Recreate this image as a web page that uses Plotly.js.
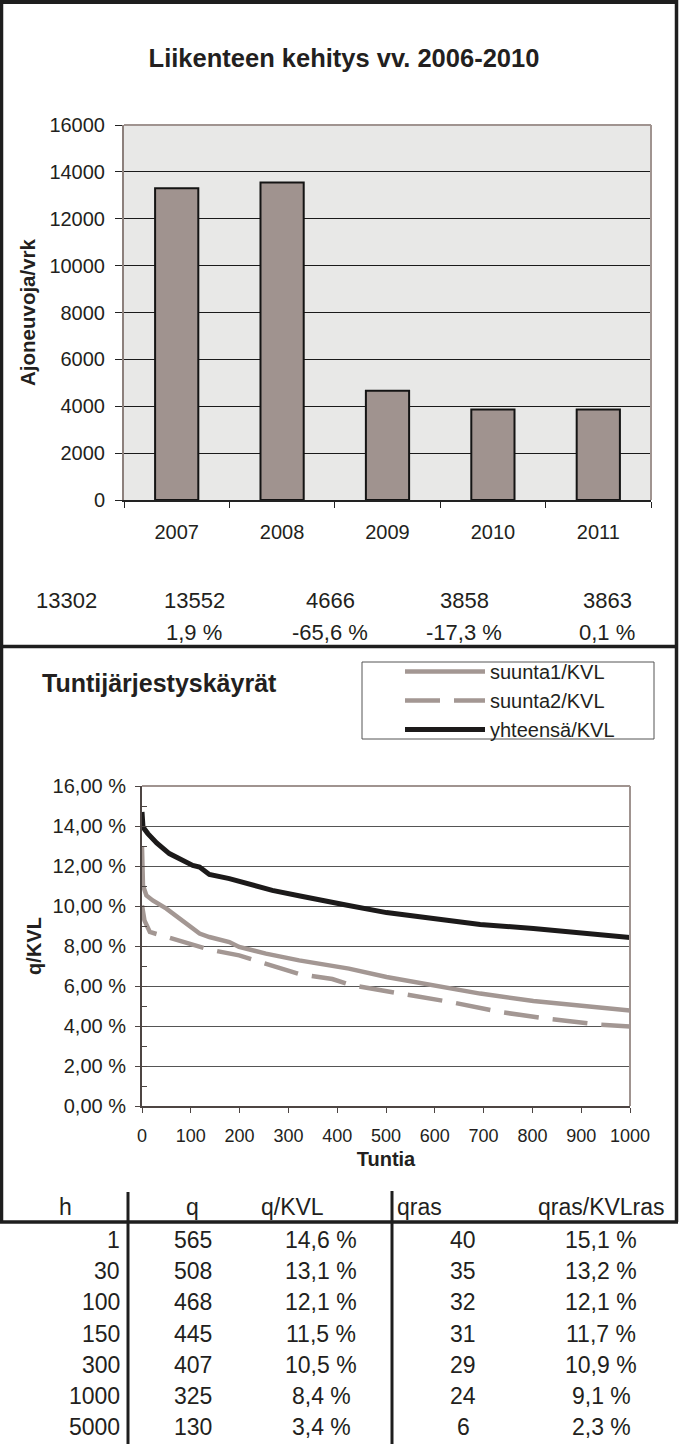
<!DOCTYPE html>
<html><head><meta charset="utf-8">
<script src="https://cdn.plot.ly/plotly-3.0.1.min.js"></script>
<style>html,body{margin:0;padding:0;background:#fff}#chart{width:690px;height:1444px}</style>
</head><body><div id="chart"></div>
<script>
// ---- data: yearly traffic ----
const years = ['2007', '2008', '2009', '2010', '2011'];
const trafficKVL = [13302, 13552, 4666, 3858, 3863];
const changePct = [1.9, -65.6, -17.3, 0.1];

// ---- data: hour-order curves (q/KVL, %) ----
const hoursTotal = [0, 2, 12, 30, 56, 104, 118, 138, 179, 213, 267, 324, 390, 418, 501, 597, 693, 802, 904, 1000];
const totalKVL   = [14.7, 13.95, 13.62, 13.15, 12.62, 12.03, 11.95, 11.58, 11.37, 11.12, 10.78, 10.5, 10.15, 10.05, 9.67, 9.37, 9.08, 8.87, 8.65, 8.42];
const hoursDir1  = [0, 2, 9, 22, 50, 77, 97, 118, 138, 179, 199, 254, 322, 390, 424, 501, 597, 693, 802, 904, 1000];
const dir1KVL    = [12.95, 11.03, 10.53, 10.28, 9.87, 9.37, 8.95, 8.62, 8.45, 8.2, 7.95, 7.62, 7.28, 6.98, 6.87, 6.45, 6.03, 5.62, 5.25, 4.98, 4.78];
const hoursDir2  = [0, 5, 16, 50, 97, 138, 199, 254, 322, 390, 427, 530, 632, 734, 829, 932, 1000];
const dir2KVL    = [10.03, 9.28, 8.7, 8.45, 8.12, 7.82, 7.53, 7.12, 6.6, 6.35, 6.05, 5.62, 5.2, 4.7, 4.37, 4.08, 3.98];
const seriesNames = ['suunta1/KVL', 'suunta2/KVL', 'yhteensä/KVL'];

// ---- data: table ----
const tblHeaders  = ['h', 'q', 'q/KVL', 'qras', 'qras/KVLras'];
const tblHours    = [1, 30, 100, 150, 300, 1000, 5000];
const tblQ        = [565, 508, 468, 445, 407, 325, 130];
const tblQKVL     = [14.6, 13.1, 12.1, 11.5, 10.5, 8.4, 3.4];
const tblQras     = [40, 35, 32, 31, 29, 24, 6];
const tblQrasKVL  = [15.1, 13.2, 12.1, 11.7, 10.9, 9.1, 2.3];

// ---- helpers ----
const W = 690, H = 1444;
const px = x => x / W;
const py = y => 1 - y / H;
const FONT = 'Liberation Sans, Arial, sans-serif';
const TXT = '#231f20';
const fmtPct = v => v.toFixed(1).replace('.', ',') + ' %';
const GREY = '#a39793';

const traces = [
  {type: 'bar', x: years, y: trafficKVL, xaxis: 'x', yaxis: 'y', showlegend: false, hoverinfo: 'skip',
   marker: {color: '#a0938f', line: {color: '#141414', width: 2}}},
  {type: 'scatter', mode: 'lines', name: seriesNames[0], x: hoursDir1, y: dir1KVL, xaxis: 'x2', yaxis: 'y2',
   line: {color: GREY, width: 4.5}},
  {type: 'scatter', mode: 'lines', name: seriesNames[1], x: hoursDir2, y: dir2KVL, xaxis: 'x2', yaxis: 'y2',
   line: {color: GREY, width: 4.5, dash: '35px,14px'}},
  {type: 'scatter', mode: 'lines', name: seriesNames[2], x: hoursTotal, y: totalKVL, xaxis: 'x2', yaxis: 'y2',
   line: {color: '#1c1a1a', width: 5}}
];

const ann = [];
// Second chart title
ann.push({text: 'Tuntijärjestyskäyrät', x: px(40), y: py(683), xref: 'paper', yref: 'paper',
  xanchor: 'left', yanchor: 'middle', showarrow: false, font: {family: FONT, size: 25, weight: 'bold', color: TXT}});
// value row under bar chart
const valX = [66, 194, 330, 464, 607];
trafficKVL.forEach((v, i) => ann.push({text: String(v), x: px(valX[i]), y: py(600), xref: 'paper', yref: 'paper',
  xanchor: 'center', yanchor: 'middle', showarrow: false, font: {family: FONT, size: 22, color: TXT}}));
changePct.forEach((v, i) => ann.push({text: fmtPct(v), x: px(valX[i + 1]), y: py(632), xref: 'paper', yref: 'paper',
  xanchor: 'center', yanchor: 'middle', showarrow: false, font: {family: FONT, size: 22, color: TXT}}));
// table headers
const hdrPos = [[65, 'center'], [193, 'center'], [292, 'center'], [395, 'left'], [601, 'center']];
tblHeaders.forEach((t, i) => ann.push({text: t, x: px(hdrPos[i][0]), y: py(1207), xref: 'paper', yref: 'paper',
  xanchor: hdrPos[i][1], yanchor: 'middle', showarrow: false, font: {family: FONT, size: 23, color: TXT}}));
// table rows
const rowY = i => 1240 + 31.2 * i;
const cell = (t, x, xa, i) => ann.push({text: t, x: px(x), y: py(rowY(i)), xref: 'paper', yref: 'paper',
  xanchor: xa, yanchor: 'middle', showarrow: false, font: {family: FONT, size: 23, color: TXT}});
tblHours.forEach((v, i) => cell(String(v), 122, 'right', i));
tblQ.forEach((v, i) => cell(String(v), 193, 'center', i));
tblQKVL.forEach((v, i) => cell(fmtPct(v), 321, 'center', i));
tblQras.forEach((v, i) => cell(String(v), 463, 'center', i));
tblQrasKVL.forEach((v, i) => cell(fmtPct(v), 601, 'center', i));

const line = (x0, y0, x1, y1, color, width, dash) => ({type: 'line', xref: 'paper', yref: 'paper',
  x0: px(x0), y0: py(y0), x1: px(x1), y1: py(y1), line: {color, width, dash: dash || 'solid'}});

const shapes = [
  // top chart plot background
  {type: 'rect', xref: 'x domain', yref: 'y domain', x0: 0, x1: 1, y0: 0, y1: 1, layer: 'below',
   fillcolor: '#e8e8e7', line: {width: 0}},
  // plot borders (top/right)
  line(124, 125, 651, 125, '#a09490', 2),
  line(651, 125, 651, 500, '#a09490', 2),
  line(142, 786, 630, 786, '#a09490', 2),
  line(630, 786, 630, 1106, '#a09490', 2),
  // legend box
  {type: 'rect', xref: 'paper', yref: 'paper', x0: px(362), x1: px(654), y0: py(662), y1: py(739),
   line: {color: '#555', width: 1}, fillcolor: 'rgba(0,0,0,0)'},
  // outer frame
  line(0, 2, 678, 2, '#1e1e1e', 4),
  line(1.5, 0, 1.5, 1222, '#1e1e1e', 3.5),
  line(676.5, 0, 676.5, 1222, '#1e1e1e', 3.5),
  line(0, 646.5, 678, 646.5, '#1e1e1e', 3.5),
  // table lines
  line(0, 1222, 678, 1222, '#1e1e1e', 3.5),
  line(128, 1192, 128, 1444, '#1e1e1e', 3),
  line(392, 1191, 392, 1444, '#1e1e1e', 3)
];

const layout = {
  width: W, height: H, margin: {l: 0, r: 0, t: 0, b: 0},
  paper_bgcolor: '#fff', plot_bgcolor: 'rgba(0,0,0,0)',
  separators: ', ',
  font: {family: FONT, color: TXT},
  title: {text: 'Liikenteen kehitys vv. 2006-2010', x: px(344), y: py(58), xref: 'paper', yref: 'paper',
    xanchor: 'center', yanchor: 'middle', font: {family: FONT, size: 25.5, weight: 'bold', color: TXT}},
  bargap: 0.59,
  showlegend: true,
  legend: {x: px(400), y: py(652), xanchor: 'left', yanchor: 'top', bgcolor: 'rgba(0,0,0,0)', borderwidth: 0,
    itemwidth: 80, font: {family: FONT, size: 20, color: TXT}, traceorder: 'normal'},
  xaxis: {domain: [px(124), px(651)], anchor: 'y', type: 'category', tickson: 'boundaries',
    ticks: 'outside', ticklen: 6, tickcolor: '#222', showline: true, linecolor: '#222', linewidth: 1.5,
    showgrid: false, tickfont: {family: FONT, size: 20, color: TXT}, ticklabelstandoff: 13, fixedrange: true},
  yaxis: {domain: [py(500), py(125)], anchor: 'x', range: [0, 16000], dtick: 2000, tickformat: 'd',
    ticks: 'outside', ticklen: 7, tickcolor: '#222', showline: true, linecolor: '#8c807c', linewidth: 2,
    gridcolor: '#1a1a1a', gridwidth: 1, zeroline: false, tickfont: {family: FONT, size: 20, color: TXT},
    ticklabelstandoff: 6,
    title: {text: 'Ajoneuvoja/vrk', font: {family: FONT, size: 20.5, weight: 'bold', color: TXT}, standoff: 8}},
  xaxis2: {domain: [px(142), px(630)], anchor: 'y2', range: [0, 1000], dtick: 100,
    ticks: 'outside', ticklen: 5, tickcolor: '#4d4543', showline: true, linecolor: '#4d4543', linewidth: 2,
    showgrid: false, zeroline: false, tickfont: {family: FONT, size: 18, color: TXT}, ticklabelstandoff: 7,
    title: {text: 'Tuntia', font: {family: FONT, size: 20, weight: 'bold', color: TXT}, standoff: 7}},
  yaxis2: {domain: [py(1106), py(786)], anchor: 'x2', range: [0, 16], dtick: 2, tickformat: '.2f', ticksuffix: ' %',
    ticks: 'outside', ticklen: 5, tickcolor: '#4d4543', showline: true, linecolor: '#4d4543', linewidth: 2,
    gridcolor: '#555', gridwidth: 1, zeroline: false, tickfont: {family: FONT, size: 20, color: TXT},
    ticklabelstandoff: 5,
    minor: {dtick: 1, ticks: 'inside', ticklen: 5, tickcolor: '#4d4543', showgrid: false},
    title: {text: 'q/KVL', font: {family: FONT, size: 20, weight: 'bold', color: TXT}, standoff: 6}},
  annotations: ann,
  shapes: shapes
};

Plotly.newPlot('chart', traces, layout, {staticPlot: true, displayModeBar: false});
</script></body></html>
